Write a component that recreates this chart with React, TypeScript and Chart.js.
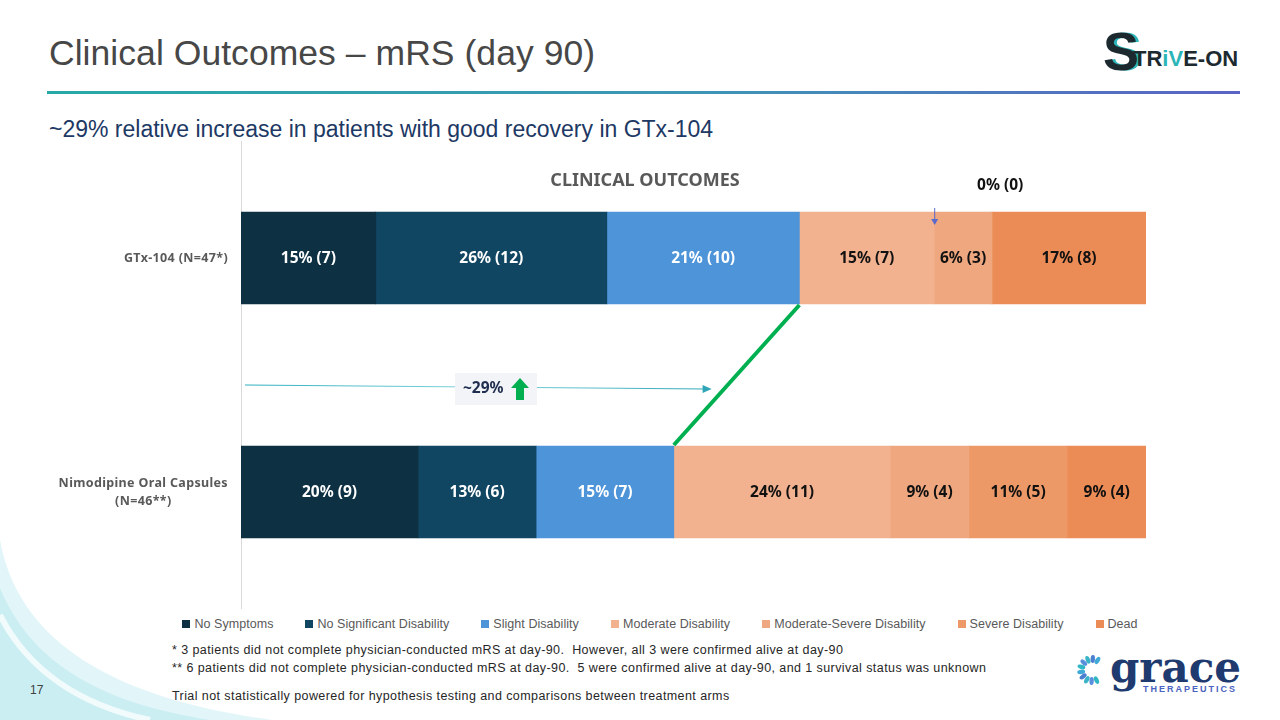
import { useEffect, useRef } from "react"
import { Chart, registerables, type Plugin } from "chart.js"

Chart.register(...registerables)

// treatment arms (y categories)
const arms = ["GTx-104 (N=47*)", "Nimodipine Oral Capsules (N=46**)"]
const armLabelLines = [["GTx-104 (N=47*)"], ["Nimodipine Oral Capsules", "(N=46**)"]]
const armSizes = [47, 46]

// mRS outcome categories, patient counts per arm
const outcomeNames = [
  "No Symptoms",
  "No Significant Disability",
  "Slight Disability",
  "Moderate Disability",
  "Moderate-Severe Disability",
  "Severe Disability",
  "Dead",
]
const noSymptoms = [7, 9]
const noSignificantDisability = [12, 6]
const slightDisability = [10, 7]
const moderateDisability = [7, 11]
const moderateSevereDisability = [3, 4]
const severeDisability = [0, 5]
const dead = [8, 4]
const outcomeCounts = [
  noSymptoms,
  noSignificantDisability,
  slightDisability,
  moderateDisability,
  moderateSevereDisability,
  severeDisability,
  dead,
]

const outcomeColors = ["#0D3043", "#114662", "#4E94D8", "#F2B28F", "#EFA77F", "#EC9967", "#EB8B55"]
const labelColors = ["#FFFFFF", "#FFFFFF", "#FFFFFF", "#111111", "#111111", "#111111", "#111111"]

// annotations
const goodRecoveryCount = 3 // first three categories = good recovery
const zeroMarkerAfter = 4 // GTx-104 category boundary with the "0% (0)" note
const zeroMarkerText = "0% (0)"
const relativeIncreaseText = "~29%"
const chartTitle = "CLINICAL OUTCOMES"

const footnotes = [
  "* 3 patients did not complete physician-conducted mRS at day-90.  However, all 3 were confirmed alive at day-90",
  "** 6 patients did not complete physician-conducted mRS at day-90.  5 were confirmed alive at day-90, and 1 survival status was unknown",
]
const disclaimer = "Trial not statistically powered for hypothesis testing and comparisons between treatment arms"

const BAR = 92
const pct = (count: number, arm: number) => (count / armSizes[arm]) * 100
const cumulative = (arm: number, n: number) =>
  outcomeCounts.slice(0, n).reduce((sum, counts) => sum + pct(counts[arm], arm), 0)

const segmentLabels: Plugin<"bar"> = {
  id: "segmentLabels",
  afterDatasetsDraw(chart) {
    const { ctx } = chart
    ctx.save()
    ctx.font = "bold 15.5px 'Noto Sans', sans-serif"
    ctx.textAlign = "center"
    ctx.textBaseline = "middle"
    chart.data.datasets.forEach((_, k) => {
      chart.getDatasetMeta(k).data.forEach((bar, i) => {
        const count = outcomeCounts[k][i]
        if (!count) return
        const { x, y, base } = bar.getProps(["x", "y", "base"], true) as any
        ctx.fillStyle = labelColors[k]
        ctx.fillText(`${Math.round(pct(count, i))}% (${count})`, (x + base) / 2, y + 1)
      })
    })
    ctx.restore()
  },
}

const annotations: Plugin<"bar"> = {
  id: "annotations",
  afterDraw(chart) {
    const { ctx, chartArea } = chart
    const xs = chart.scales.x
    const ys = chart.scales.y
    const { left, top } = chartArea
    ctx.save()

    // arm labels
    ctx.font = "bold 12.5px 'Noto Sans', sans-serif"
    ;(ctx as any).letterSpacing = "0.35px"
    ctx.fillStyle = "#595959"
    ctx.textAlign = "center"
    ctx.textBaseline = "middle"
    armLabelLines.forEach((lines, i) => {
      const cy = ys.getPixelForValue(i)
      const w = Math.max(...lines.map((l) => ctx.measureText(l).width))
      const cx = left - 13 - w / 2
      lines.forEach((line, j) => ctx.fillText(line, cx, cy + (j - (lines.length - 1) / 2) * 18))
    })
    ;(ctx as any).letterSpacing = "0px"

    // chart title
    ctx.font = "bold 18px 'Noto Sans', sans-serif"
    ctx.fillText(chartTitle, left + 404, top + 40)

    // green line between good-recovery boundaries
    const y0 = ys.getPixelForValue(0)
    const y1 = ys.getPixelForValue(1)
    ctx.strokeStyle = "#00B050"
    ctx.lineWidth = 4
    ctx.beginPath()
    ctx.moveTo(xs.getPixelForValue(cumulative(0, goodRecoveryCount)), y0 + BAR / 2 + 1)
    ctx.lineTo(xs.getPixelForValue(cumulative(1, goodRecoveryCount)), y1 - BAR / 2 - 1)
    ctx.stroke()

    // teal arrow
    const mid = (y0 + y1) / 2
    const ax0 = left + 4
    const ax1 = xs.getPixelForValue(52)
    const grad = ctx.createLinearGradient(ax0, 0, ax1, 0)
    grad.addColorStop(0, "#2FAFBF")
    grad.addColorStop(0.5, "#7FD4DC")
    grad.addColorStop(1, "#2FA6B8")
    ctx.strokeStyle = grad
    ctx.lineWidth = 1.2
    ctx.beginPath()
    ctx.moveTo(ax0, mid + 10)
    ctx.lineTo(ax1 - 6, mid + 14)
    ctx.stroke()
    ctx.fillStyle = "#2FA6B8"
    ctx.beginPath()
    ctx.moveTo(ax1, mid + 14)
    ctx.lineTo(ax1 - 9, mid + 10)
    ctx.lineTo(ax1 - 9, mid + 18)
    ctx.closePath()
    ctx.fill()

    // ~29% box
    const bx = left + 214
    const by = mid - 2
    ctx.fillStyle = "#F2F4F8"
    ctx.fillRect(bx, by, 82, 32)
    ctx.fillStyle = "#1F2D4E"
    ctx.font = "bold 15.5px 'Noto Sans', sans-serif"
    ctx.textAlign = "left"
    ctx.fillText(relativeIncreaseText, bx + 8, by + 16)
    const gx = bx + 65
    ctx.fillStyle = "#00B050"
    ctx.beginPath()
    ctx.moveTo(gx, by + 5)
    ctx.lineTo(gx + 9, by + 15)
    ctx.lineTo(gx + 4, by + 15)
    ctx.lineTo(gx + 4, by + 27)
    ctx.lineTo(gx - 4, by + 27)
    ctx.lineTo(gx - 4, by + 15)
    ctx.lineTo(gx - 9, by + 15)
    ctx.closePath()
    ctx.fill()

    // 0% (0) marker
    const zx = xs.getPixelForValue(cumulative(0, zeroMarkerAfter))
    ctx.strokeStyle = "#5B6BC9"
    ctx.fillStyle = "#5B6BC9"
    ctx.lineWidth = 1
    ctx.beginPath()
    ctx.moveTo(zx + 0.5, top + 67)
    ctx.lineTo(zx + 0.5, top + 80)
    ctx.stroke()
    ctx.beginPath()
    ctx.moveTo(zx + 0.5, top + 84)
    ctx.lineTo(zx - 3, top + 78)
    ctx.lineTo(zx + 4, top + 78)
    ctx.closePath()
    ctx.fill()
    ctx.fillStyle = "#111111"
    ctx.font = "bold 15.5px 'Noto Sans', sans-serif"
    ctx.textAlign = "center"
    ctx.fillText(zeroMarkerText, zx + 66, top + 45)

    ctx.restore()
  },
}

function OutcomesChart() {
  const chartRef = useRef<HTMLCanvasElement>(null)
  const chartInstance = useRef<Chart | null>(null)

  useEffect(() => {
    if (!chartRef.current) return
    const ctx = chartRef.current.getContext("2d")
    if (!ctx) return
    if (chartInstance.current) chartInstance.current.destroy()

    chartInstance.current = new Chart(ctx, {
      type: "bar",
      data: {
        labels: arms,
        datasets: outcomeNames.map((name, k) => ({
          label: name,
          data: outcomeCounts[k].map((c, i) => pct(c, i)),
          backgroundColor: outcomeColors[k],
          borderWidth: 0,
          barThickness: BAR,
        })),
      },
      options: {
        indexAxis: "y",
        animation: false,
        responsive: true,
        maintainAspectRatio: false,
        layout: { padding: { left: 160, right: 14, top: 0, bottom: 0 } },
        scales: {
          x: { stacked: true, min: 0, max: 100, display: false },
          y: {
            stacked: true,
            grid: { display: false },
            border: { display: true, color: "#D9D9D9", width: 1 },
            ticks: { display: false },
            afterFit: (scale) => {
              scale.width = 81
            },
          },
        },
        plugins: {
          legend: { display: false },
          tooltip: { enabled: false },
        },
      },
      plugins: [segmentLabels, annotations],
    })

    return () => {
      if (chartInstance.current) {
        chartInstance.current.destroy()
        chartInstance.current = null
      }
    }
  }, [])

  return (
    <div style={{ position: "absolute", left: 0, top: 141, width: 1160, height: 468 }}>
      <canvas ref={chartRef} />
    </div>
  )
}

export default function App() {
  const petals = Array.from({ length: 10 }, (_, i) => 60 + i * 26)
  const noteStyle = {
    position: "absolute" as const,
    left: 172,
    fontSize: 12.5,
    lineHeight: "14px",
    letterSpacing: 0.42,
    color: "#262626",
    whiteSpace: "pre" as const,
  }
  return (
    <div
      style={{
        position: "fixed",
        left: 0,
        top: 0,
        width: 1280,
        height: 720,
        background: "#FFFFFF",
        overflow: "hidden",
        fontFamily: "'Liberation Sans', Arial, sans-serif",
      }}
    >
      {/* bottom-left decoration */}
      <svg width={320} height={200} style={{ position: "absolute", left: 0, top: 520 }}>
        <path d="M0,20 C18,120 110,178 272,200 L0,200 Z" fill="#E2F5F8" />
        <path d="M0,68 C30,140 95,182 210,200 L0,200 Z" fill="#CBEEF3" />
        <path d="M0,95 C28,150 80,185 150,200" stroke="#F2FBFC" strokeWidth={6} fill="none" />
      </svg>

      <div
        style={{
          position: "absolute",
          left: 49,
          top: 36,
          fontSize: 35.5,
          lineHeight: "35px",
          letterSpacing: 0.05,
          color: "#474747",
          whiteSpace: "nowrap",
        }}
      >
        Clinical Outcomes – mRS (day 90)
      </div>
      <div
        style={{
          position: "absolute",
          left: 47,
          top: 91,
          width: 1193,
          height: 3,
          background: "linear-gradient(90deg, #27A9A6 0%, #3E95B6 55%, #5B63C4 100%)",
        }}
      />
      <div
        style={{
          position: "absolute",
          left: 49,
          top: 118,
          fontSize: 23,
          lineHeight: "22.5px",
          color: "#203864",
          whiteSpace: "nowrap",
        }}
      >
        ~29% relative increase in patients with good recovery in GTx-104
      </div>

      {/* STRIVE-ON logo */}
      <svg width={150} height={50} style={{ position: "absolute", left: 1100, top: 26 }}>
        <text x={6} y={44} fontSize={54} fontWeight="bold" fill="#2CB5B8" fontFamily="'Liberation Sans', Arial">
          S
        </text>
        <text x={3} y={44} fontSize={54} fontWeight="bold" fill="#1C2A30" fontFamily="'Liberation Sans', Arial">
          S
        </text>
        <text x={33} y={40} fontSize={22} fontWeight="bold" fill="#1C2A30" fontFamily="'Liberation Sans', Arial">
          TR<tspan fill="#2CB5B8">iV</tspan>E-ON
        </text>
      </svg>

      <OutcomesChart />

      {/* legend */}
      <div
        style={{
          position: "absolute",
          left: 160,
          width: 1000,
          top: 617,
          display: "flex",
          justifyContent: "center",
          gap: 32,
          fontSize: 12.5,
          lineHeight: "14px",
          letterSpacing: 0.05,
          color: "#595959",
          whiteSpace: "nowrap",
        }}
      >
        {outcomeNames.map((name, k) => (
          <div key={name} style={{ display: "flex", alignItems: "center" }}>
            <span style={{ width: 8, height: 8, background: outcomeColors[k], marginRight: 4 }} />
            {name}
          </div>
        ))}
      </div>

      {/* footnotes */}
      {footnotes.map((t, i) => (
        <div key={i} style={{ ...noteStyle, top: 643 + i * 18 }}>
          {t}
        </div>
      ))}
      <div style={{ ...noteStyle, top: 689 }}>{disclaimer}</div>
      <div style={{ position: "absolute", left: 30, top: 683, fontSize: 12, lineHeight: "14px", color: "#404040" }}>17</div>

      {/* grace therapeutics logo */}
      <svg width={190} height={60} style={{ position: "absolute", left: 1066, top: 645 }}>
        {petals.map((deg, i) => {
          const r = (deg * Math.PI) / 180
          const cx = 26 + Math.cos(r) * 11
          const cy = 25 - Math.sin(r) * 11
          const col = ["#3FA9D8", "#4C7FD0", "#3AB4C6", "#5B8FDB", "#2FB8C4"][i % 5]
          return (
            <ellipse
              key={deg}
              cx={cx}
              cy={cy}
              rx={4}
              ry={2.2}
              fill={col}
              transform={`rotate(${-deg} ${cx} ${cy})`}
            />
          )
        })}
        <text x={44} y={37} fontSize={42} fontWeight="bold" fill="#1E3A6E" fontFamily="'DejaVu Serif', serif">
          grace
        </text>
        <text x={77} y={47} fontSize={9} fontWeight="bold" letterSpacing={2} fill="#4A62C0" fontFamily="'Liberation Sans', Arial">
          THERAPEUTICS
        </text>
      </svg>
    </div>
  )
}
